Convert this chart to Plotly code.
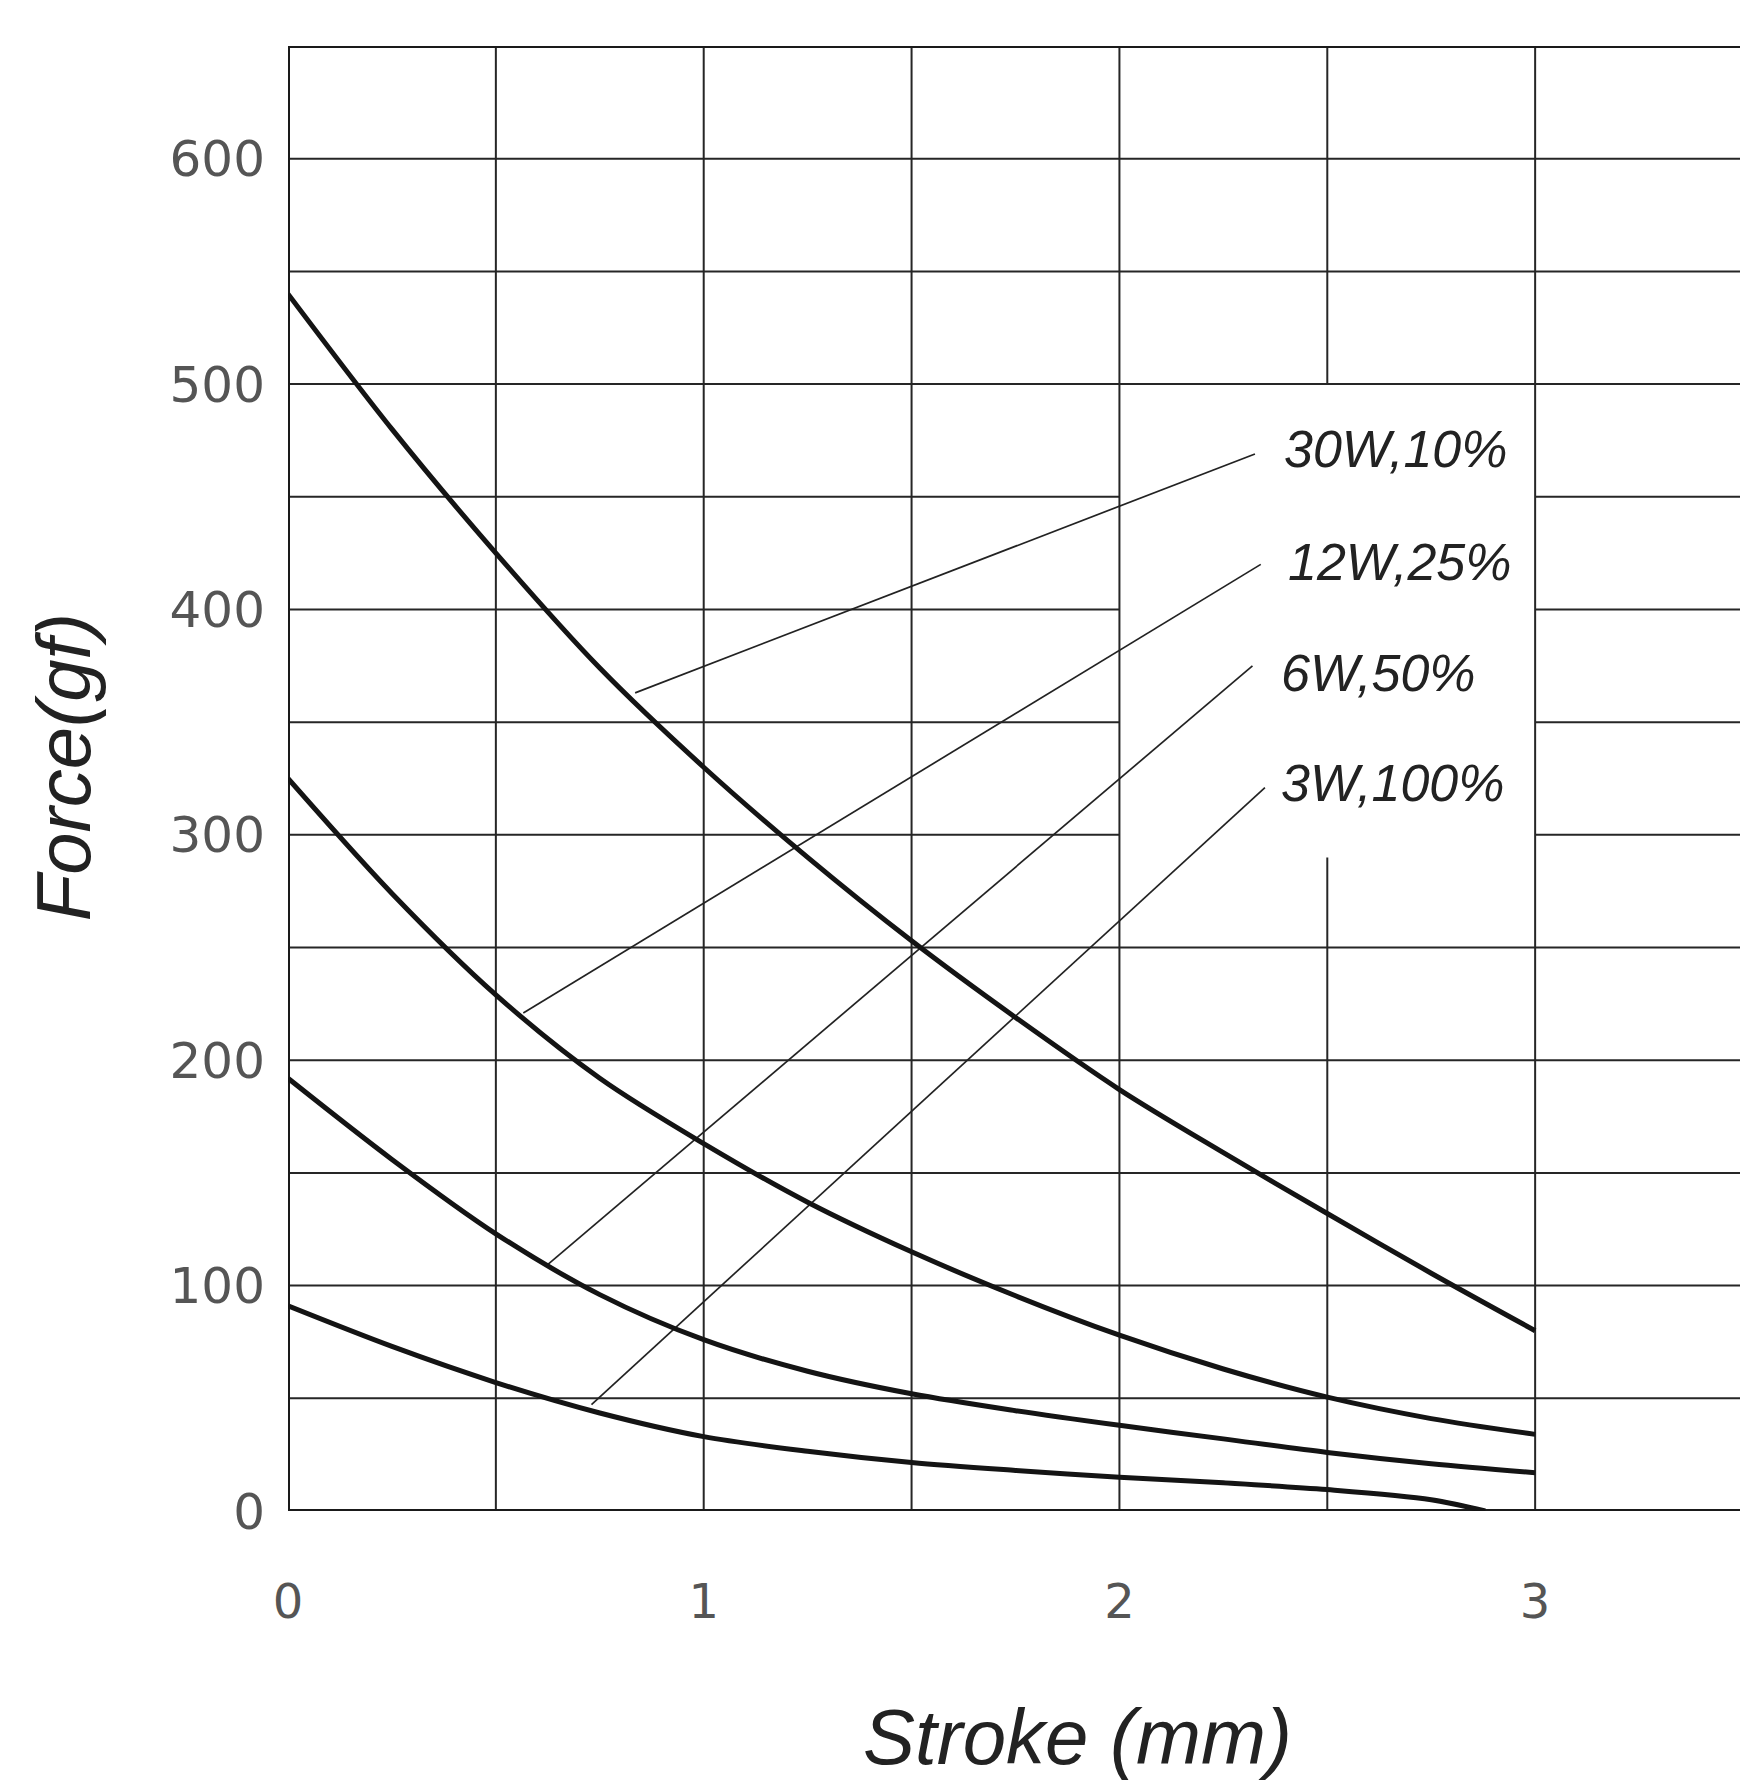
import plotly.graph_objects as go

# ---- data ----
stroke = [0, 0.25, 0.5, 0.75, 1.0, 1.25, 1.5, 1.75, 2.0, 2.25, 2.5, 2.75, 3.0]
force_30w = [540, 480, 425, 374, 330, 290, 253, 219, 187, 159, 132, 105.5, 80]
force_12w = [325, 274, 229, 192, 163, 137, 115, 95.5, 78, 63, 50.5, 41, 34]
force_6w = [192, 156, 123, 96, 76, 62, 52, 44.5, 38, 32, 26, 21, 17]
stroke_3w = [0, 0.25, 0.5, 0.75, 1.0, 1.25, 1.5, 1.75, 2.0, 2.25, 2.5, 2.75, 2.88]
force_3w = [91, 73, 57, 43.5, 33, 26.5, 21.5, 18, 15, 12.5, 9.5, 5, 0]

labels = ["30W,10%", "12W,25%", "6W,50%", "3W,100%"]
# leader lines: start on curve (x, y) -> end near label (x, y)
leader_x0 = [0.835, 0.566, 0.626, 0.73]
leader_y0 = [363, 221, 109.5, 47.2]
leader_x1 = [2.326, 2.34, 2.32, 2.35]
leader_y1 = [469, 420, 375, 321]
label_x = [2.39, 2.40, 2.385, 2.385]
label_y = [471, 421, 372, 323]

x_ticks = [0, 1, 2, 3]
y_ticks = [0, 100, 200, 300, 400, 500, 600]
x_grid = [0.5, 1.0, 1.5, 2.0, 2.5, 3.0]
y_grid = [50, 100, 150, 200, 250, 300, 350, 400, 450, 500, 550, 600]
x_max = 3.5
y_max = 650
# white box behind the labels (grid interrupted)
box_x = [2.0, 3.0]
box_y = [290, 500]

fig = go.Figure()

grid_color = "#262626"
grid_w = 2
shapes = []
# horizontal grid lines
for yv in y_grid:
    if box_y[0] < yv < box_y[1]:
        segs = [(0, box_x[0]), (box_x[1], x_max)]
    else:
        segs = [(0, x_max)]
    for a, b in segs:
        shapes.append(dict(type="line", xref="x", yref="y", x0=a, x1=b, y0=yv, y1=yv,
                           line=dict(color=grid_color, width=grid_w), layer="below"))
# vertical grid lines
for xv in x_grid:
    if box_x[0] < xv < box_x[1]:
        segs = [(0, box_y[0]), (box_y[1], y_max)]
    else:
        segs = [(0, y_max)]
    for a, b in segs:
        shapes.append(dict(type="line", xref="x", yref="y", x0=xv, x1=xv, y0=a, y1=b,
                           line=dict(color=grid_color, width=grid_w), layer="below"))
# border
shapes.append(dict(type="rect", xref="x", yref="y", x0=0, x1=x_max, y0=0, y1=y_max,
                   line=dict(color="#1a1a1a", width=4), layer="below"))

# leader lines
for i in range(len(labels)):
    fig.add_trace(go.Scatter(x=[leader_x0[i], leader_x1[i]], y=[leader_y0[i], leader_y1[i]],
                             mode="lines", line=dict(color="#222222", width=1.7),
                             hoverinfo="skip", showlegend=False))

curve_style = dict(color="#141414", width=5, shape="spline", smoothing=0.9)
for xs, ys, name in [(stroke, force_30w, labels[0]), (stroke, force_12w, labels[1]),
                     (stroke, force_6w, labels[2]), (stroke_3w, force_3w, labels[3])]:
    fig.add_trace(go.Scatter(x=xs, y=ys, mode="lines", line=curve_style, name=name,
                             showlegend=False, cliponaxis=True))

annotations = []
for i, lab in enumerate(labels):
    annotations.append(dict(x=label_x[i], y=label_y[i], xref="x", yref="y", text="<i>%s</i>" % lab,
                            showarrow=False, xanchor="left", yanchor="middle",
                            font=dict(family="Liberation Sans, Arial, sans-serif", size=52, color="#222222")))
annotations.append(dict(x=1.90, y=0, xref="x", yref="paper", yshift=-226, text="<i>Stroke (mm)</i>",
                        showarrow=False, xanchor="center", yanchor="middle",
                        font=dict(family="Liberation Sans, Arial, sans-serif", size=78, color="#222222")))
annotations.append(dict(x=0, y=330, xref="paper", yref="y", xshift=-225, text="<i>Force(gf)</i>",
                        showarrow=False, xanchor="center", yanchor="middle", textangle=-90,
                        font=dict(family="Liberation Sans, Arial, sans-serif", size=76, color="#222222")))

# page body has an 8px default margin, so the figure is slightly smaller than the window
fig.update_layout(
    width=1740, height=1778,
    margin=dict(l=280, r=5, t=38, b=275),
    paper_bgcolor="white", plot_bgcolor="white",
    shapes=shapes, annotations=annotations,
    showlegend=False,
    xaxis=dict(range=[0, x_max], tickvals=x_ticks, ticktext=[str(v) for v in x_ticks],
               showgrid=False, zeroline=False, showline=False, ticks="", automargin=False,
               ticklabelstandoff=58,
               tickfont=dict(family="DejaVu Sans", size=48, color="#555555")),
    yaxis=dict(range=[0, y_max], tickvals=y_ticks, ticktext=[str(v) for v in y_ticks],
               showgrid=False, zeroline=False, showline=False, ticks="", automargin=False,
               ticklabelstandoff=22,
               tickfont=dict(family="DejaVu Sans", size=50, color="#555555")),
)

fig.write_html("out.html")
